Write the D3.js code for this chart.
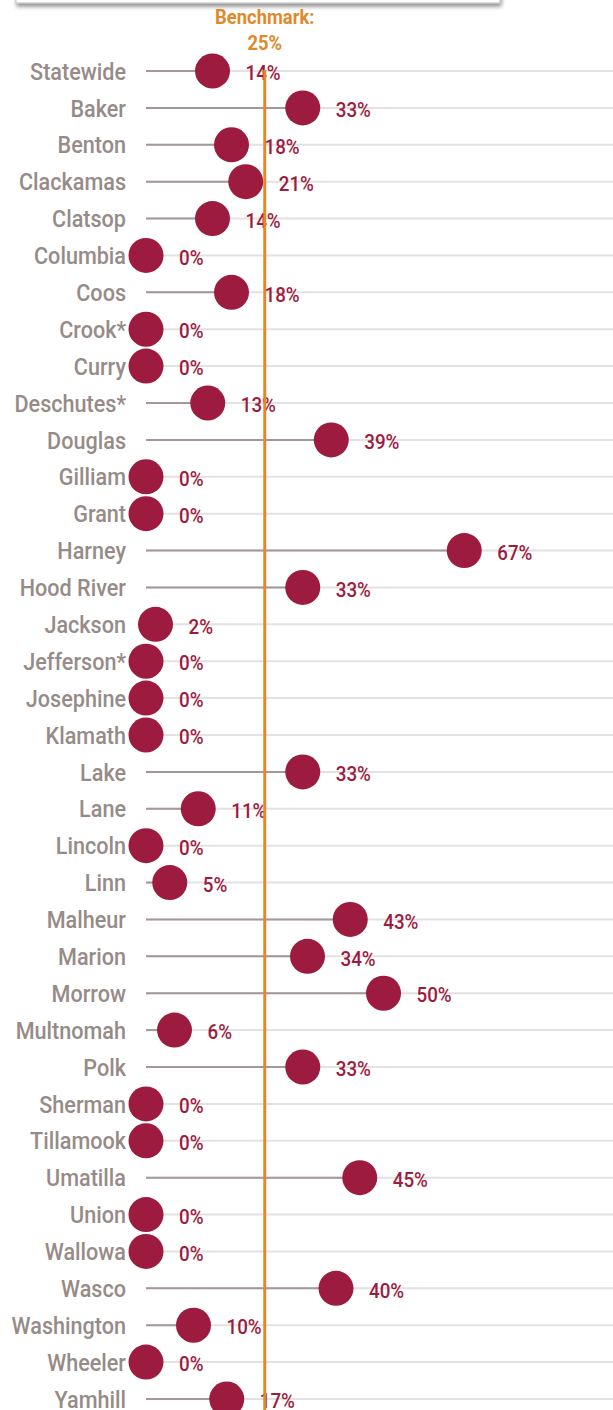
<!DOCTYPE html>
<html>
<head>
<meta charset="utf-8">
<script src="https://cdn.jsdelivr.net/npm/d3@7"></script>
<style>
	body { margin: 0; background: #fff; }
	svg text { font-family: Roboto, "Noto Sans", sans-serif; }
</style>
</head>
<body>
<div id="chart"></div>
<script>
// counties and their share (percent)
var counties = ['Statewide', 'Baker', 'Benton', 'Clackamas', 'Clatsop', 'Columbia', 'Coos', 'Crook*', 'Curry',
	'Deschutes*', 'Douglas', 'Gilliam', 'Grant', 'Harney', 'Hood River', 'Jackson', 'Jefferson*', 'Josephine',
	'Klamath', 'Lake', 'Lane', 'Lincoln', 'Linn', 'Malheur', 'Marion', 'Morrow', 'Multnomah', 'Polk', 'Sherman',
	'Tillamook', 'Umatilla', 'Union', 'Wallowa', 'Wasco', 'Washington', 'Wheeler', 'Yamhill'];
var values = [14, 33, 18, 21, 14, 0, 18, 0, 0, 13, 39, 0, 0, 67, 33, 2, 0, 0, 0, 33, 11, 0, 5, 43, 34, 50, 6, 33, 0,
	0, 45, 0, 0, 40, 10, 0, 17];
var benchmark = 25;
var benchmarkLabel = ['Benchmark:', '25%'];

var width = 613, height = 1410;

var svg = d3.select('#chart').append('svg')
	.attr('width', width)
	.attr('height', height);

var defs = svg.append('defs');
var filter = defs.append('filter').attr('id', 'shadow')
	.attr('x', '-5%').attr('y', '-50%').attr('width', '110%').attr('height', '200%');
filter.append('feDropShadow')
	.attr('dx', 1).attr('dy', 3).attr('stdDeviation', 2)
	.attr('flood-color', '#000').attr('flood-opacity', 0.45);

// box cut off at the top of the picture
svg.append('rect')
	.attr('x', 16).attr('y', -60)
	.attr('width', 484).attr('height', 63)
	.attr('fill', '#fff')
	.attr('stroke', '#bdbdbd')
	.attr('filter', 'url(#shadow)');

var x = d3.scaleLinear().domain([0, 100]).range([146, 621]);
var y = d3.scalePoint().domain(counties).range([71, 1399]);

var data = counties.map(function (c, i) { return { name: c, value: values[i] }; });

// condensed look: squeeze text horizontally
function place(tx, ty, sx) {
	return 'translate(' + tx + ',' + ty + ') scale(' + sx + ',1)';
}

// light grid lines
svg.append('g').selectAll('line')
	.data(data).enter()
	.append('line')
	.attr('x1', x(0)).attr('x2', width)
	.attr('y1', d => y(d.name)).attr('y2', d => y(d.name))
	.attr('stroke', '#e3e1e1')
	.attr('stroke-width', 2);

// stems
svg.append('g').selectAll('line')
	.data(data).enter()
	.append('line')
	.attr('x1', x(0)).attr('x2', d => x(d.value))
	.attr('y1', d => y(d.name)).attr('y2', d => y(d.name))
	.attr('stroke', '#a39797')
	.attr('stroke-width', 2);

// category labels
svg.append('g').selectAll('text')
	.data(data).enter()
	.append('text')
	.attr('transform', d => place(126, y(d.name), 0.9))
	.attr('dy', '0.36em')
	.attr('text-anchor', 'end')
	.attr('fill', '#978b88')
	.style('font-size', '24px')
	.style('font-weight', 500)
	.text(d => d.name);

// dots
svg.append('g').selectAll('circle')
	.data(data).enter()
	.append('circle')
	.attr('cx', d => x(d.value))
	.attr('cy', d => y(d.name))
	.attr('r', 17.5)
	.attr('fill', '#9e1b40');

// value labels
svg.append('g').selectAll('text')
	.data(data).enter()
	.append('text')
	.attr('transform', d => place(x(d.value) + 33, y(d.name) + 2, 0.94))
	.attr('dy', '0.36em')
	.attr('fill', '#9e1b40')
	.style('font-size', '20px')
	.style('font-weight', 500)
	.text(d => d.value + '%');

// benchmark line
svg.append('line')
	.attr('x1', x(benchmark)).attr('x2', x(benchmark))
	.attr('y1', 70).attr('y2', height)
	.attr('stroke', '#e0892a')
	.attr('stroke-width', 3);

svg.append('g').selectAll('text')
	.data(benchmarkLabel).enter()
	.append('text')
	.attr('transform', (d, i) => place(x(benchmark), 24 + i * 26, 0.92))
	.attr('text-anchor', 'middle')
	.attr('fill', '#e0892a')
	.style('font-size', '20px')
	.style('font-weight', 'bold')
	.text(d => d);
</script>
</body>
</html>
